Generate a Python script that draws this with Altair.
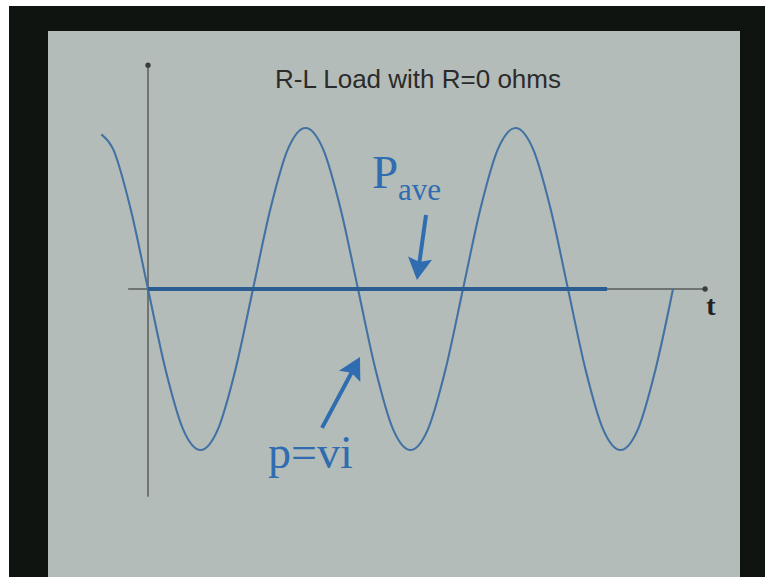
import altair as alt
import pandas as pd

# Instantaneous power p = v*i for a purely inductive load (R = 0),
# sampled against phase angle (degrees).
t_deg = [-80, -60, -30, 0, 30, 60, 90, 120, 150, 180, 210, 240, 270, 300, 330,
         360, 390, 420, 450, 480, 510, 540, 570, 600, 630, 660, 690, 720, 750,
         780, 810, 840, 870, 900]
p_vals = [0.96, 0.87, 0.5, 0.0, -0.5, -0.87, -1.0, -0.87, -0.5, 0.0, 0.5, 0.87,
          1.0, 0.87, 0.5, 0.0, -0.5, -0.87, -1.0, -0.87, -0.5, 0.0, 0.5, 0.87,
          1.0, 0.87, 0.5, 0.0, -0.5, -0.87, -1.0, -0.87, -0.5, 0.0]

# Average power over whole cycles is zero
t_ave = [0, 787]
p_ave = [0.0, 0.0]

TITLE = "R-L Load with R=0 ohms"

BLUE_CURVE = "#4272a4"
BLUE_AVE = "#2b5c92"
BLUE_NOTE = "#2f6cb0"
AXIS_GRAY = "#6e7472"

xs = alt.Scale(domain=[-253.7, 1057.7], nice=False, zero=False)
ys = alt.Scale(domain=[-1.789, 1.795], nice=False, zero=False)


def X(field="t"):
    return alt.X(f"{field}:Q", scale=xs, axis=None)


def Y(field="p"):
    return alt.Y(f"{field}:Q", scale=ys, axis=None)


one = pd.DataFrame({"k": [0]})

frame = alt.Chart(one).mark_rect(color="#101410").encode(
    x=alt.value(9), x2=alt.value(765), y=alt.value(6), y2=alt.value(577))
panel = alt.Chart(one).mark_rect(color="#b4bcb9").encode(
    x=alt.value(48), x2=alt.value(740), y=alt.value(31), y2=alt.value(577))

# Time axis and power axis
axes_df = pd.DataFrame({"t": [-34, 0], "p": [0.0, -1.29],
                        "t2": [955, 0], "p2": [0.0, 1.39]})
axes = alt.Chart(axes_df).mark_rule(color=AXIS_GRAY, strokeWidth=2).encode(
    x=X(), y=Y(), x2="t2:Q", y2="p2:Q")
ends_df = pd.DataFrame({"t": [955, 0], "p": [0.0, 1.39]})
ends = alt.Chart(ends_df).mark_point(filled=True, shape="circle", size=28,
                                     color="#3a3d3c", opacity=1).encode(x=X(), y=Y())

curve_df = pd.DataFrame({"t": t_deg, "p": p_vals})
curve = alt.Chart(curve_df).mark_line(color=BLUE_CURVE, strokeWidth=2.1,
                                      interpolate="monotone").encode(x=X(), y=Y())

ave_df = pd.DataFrame({"t": t_ave, "p": p_ave})
ave = alt.Chart(ave_df).mark_line(color=BLUE_AVE, strokeWidth=4).encode(x=X(), y=Y())

# Annotation arrows: shaft then head anchored at the tip
shaft_df = pd.DataFrame({"t": [476.6, 298.3], "p": [0.46, -0.863],
                         "t2": [463.9, 353.7], "p2": [0.13, -0.488]})
shafts = alt.Chart(shaft_df).mark_rule(color=BLUE_NOTE, strokeWidth=4).encode(
    x=X(), y=Y(), x2="t2:Q", y2="p2:Q")
head_df = pd.DataFrame({"t": [461.1, 363.4], "p": [0.056, -0.422], "ang": [188, 28]})
heads = alt.Chart(head_df).mark_point(
    shape="M0,0L-0.55,1L0,0.82L0.55,1Z", size=1936, filled=True,
    color=BLUE_NOTE, opacity=1, strokeWidth=0).encode(
    x=X(), y=Y(), angle=alt.Angle("ang:Q", scale=None))

serif = "Liberation Serif"
lab_P = alt.Chart(pd.DataFrame({"t": [384], "p": [0.627], "s": ["P"]})).mark_text(
    font=serif, fontSize=47, color=BLUE_NOTE, align="left", baseline="alphabetic"
).encode(x=X(), y=Y(), text="s:N")
lab_ave = alt.Chart(pd.DataFrame({"t": [428.6], "p": [0.553], "s": ["ave"]})).mark_text(
    font=serif, fontSize=31, color=BLUE_NOTE, align="left", baseline="alphabetic"
).encode(x=X(), y=Y(), text="s:N")
lab_pvi = alt.Chart(pd.DataFrame({"t": [205.7], "p": [-1.112], "s": ["p=vi"]})).mark_text(
    font=serif, fontSize=46, color=BLUE_NOTE, align="left", baseline="alphabetic"
).encode(x=X(), y=Y(), text="s:N")
lab_t = alt.Chart(pd.DataFrame({"t": [965], "p": [-0.161], "s": ["t"]})).mark_text(
    font=serif, fontSize=28, fontWeight="bold", color="#222222", align="center",
    baseline="alphabetic").encode(x=X(), y=Y(), text="s:N")
title = alt.Chart(pd.DataFrame({"t": [462.9], "p": [1.248], "s": [TITLE]})).mark_text(
    font="Liberation Sans", fontSize=26, color="#2b2b2b", align="center",
    baseline="alphabetic").encode(x=X(), y=Y(), text="s:N")

chart = alt.layer(
    frame, panel, axes, ends, curve, ave, shafts, heads,
    lab_P, lab_ave, lab_pvi, lab_t, title
).properties(
    width=765, height=577, padding=0, autosize=alt.AutoSizeParams(type="none"),
    background="white"
).configure_view(stroke=None)

chart.save("out.html", embed_options={"renderer": "svg", "actions": False})
